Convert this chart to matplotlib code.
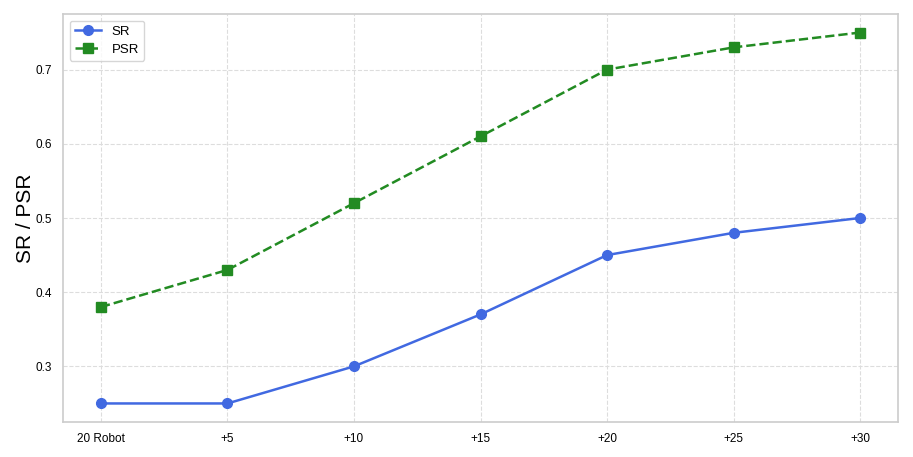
import matplotlib
matplotlib.use("Agg")
import matplotlib.pyplot as plt

categories = ["20 Robot", "+5", "+10", "+15", "+20", "+25", "+30"]
sr = [0.25, 0.25, 0.30, 0.37, 0.45, 0.48, 0.50]
psr = [0.38, 0.43, 0.52, 0.61, 0.70, 0.73, 0.75]

plt.rcParams['font.family'] = ['Liberation Sans', 'DejaVu Sans']
fig = plt.figure(figsize=(9.13, 4.57), dpi=100)
ax = fig.add_axes([63/913, 1-422/457, (898-63)/913, (422-14)/457])
x = list(range(len(categories)))
ax.plot(x, sr, marker='o', color='royalblue', linewidth=1.8, markersize=7, label='SR')
ax.plot(x, psr, marker='s', linestyle='--', color='forestgreen', linewidth=1.8, markersize=6.5, label='PSR')
ax.set_xticks(x)
ax.set_xticklabels(categories)
ax.set_yticks([0.3, 0.4, 0.5, 0.6, 0.7])
ax.tick_params(axis='both', labelsize=8.5, length=0, pad=8)
ax.set_ylabel('SR / PSR', fontsize=15, labelpad=0)
ax.grid(True, linestyle='--', color='#dddddd', linewidth=0.8)
ax.set_axisbelow(True)
for s in ax.spines.values():
    s.set_color('#cccccc')
    s.set_linewidth(1.2)
leg = ax.legend(loc='upper left', fontsize=9.5, frameon=True, labelspacing=0.4,
                borderaxespad=0.5)
leg.get_frame().set_edgecolor('#cccccc')
fig.savefig('out.png', dpi=100)
